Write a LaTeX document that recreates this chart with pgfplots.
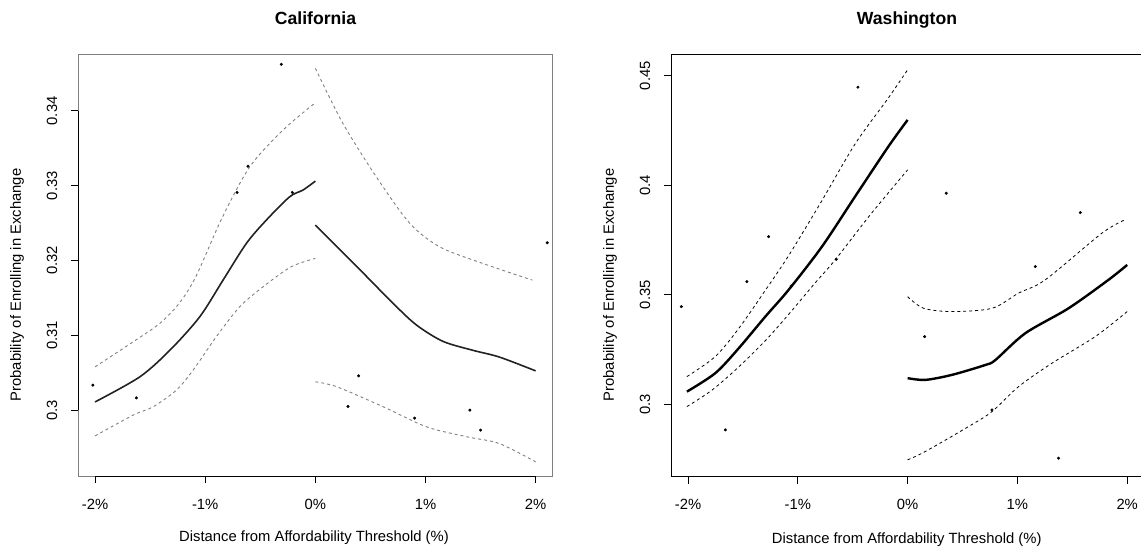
\documentclass[border=0pt]{standalone}
\usepackage{pgfplots}
\pgfplotsset{compat=1.18}
\usepackage{fontspec}
\setmainfont{Liberation Sans}
\definecolor{cagray}{HTML}{808080}
\definecolor{caline}{HTML}{222222}
\begin{document}
\fontsize{14.8bp}{18bp}\selectfont
\begin{tikzpicture}
\useasboundingbox (0bp,0bp) rectangle (1141bp,550bp);
\pgfplotsset{
  rstyle/.style={
    scale only axis,
    xmin=-2.155, xmax=2.155,
    xtick={-2,-1,0,1,2},
    xticklabels={-2\%,-1\%,0\%,1\%,2\%},
    xtick pos=lower, ytick pos=lower,
    tick align=outside,
    major tick length=7bp,
    tick style={black, line width=0.8bp},
    /pgf/number format/assume math mode=true,
    ticklabel style={font=\fontsize{14.8bp}{18bp}\selectfont},
    xticklabel style={anchor=center, yshift=-21bp},
    yticklabel style={anchor=center, xshift=-19bp, rotate=90},
    clip=false,
  },
}
% ---------------- California ----------------
\begin{axis}[rstyle,
  at={(78bp,74bp)}, anchor=south west,
  width=474.7bp, height=422bp,
  ymin=0.2912, ymax=0.3476,
  ytick={0.30,0.31,0.32,0.33,0.34},
  yticklabels={0.3,0.31,0.32,0.33,0.34},
  axis line style={cagray, line width=0.8bp},
]
\draw[black, line width=0.8bp] (axis cs:-2,0.2912) -- (axis cs:2,0.2912);
\draw[black, line width=0.8bp] (axis cs:-2.155,0.30) -- (axis cs:-2.155,0.34);
% fit left
\addplot[caline, line width=1.6bp, smooth] coordinates {
(-2.0,0.3011) (-1.594,0.30445) (-1.32,0.30802) (-1.05,0.31247) (-0.838,0.31738)
(-0.626,0.32229) (-0.445,0.3254) (-0.233,0.32852) (-0.113,0.32941) (0,0.33061)};
% upper CI left
\addplot[cagray, line width=0.9bp, dashed, smooth] coordinates {
(-2.0,0.30579) (-1.655,0.30913) (-1.413,0.31159) (-1.23,0.31440) (-1.08,0.31800)
(-0.85,0.32560) (-0.596,0.33250) (-0.294,0.33743) (0,0.34108)};
% lower CI left
\addplot[cagray, line width=0.9bp, dashed, smooth] coordinates {
(-2.0,0.29656) (-1.655,0.29933) (-1.474,0.30044) (-1.262,0.30267) (-1.11,0.30535)
(-0.90,0.3098) (-0.687,0.31381) (-0.475,0.31648) (-0.22,0.31916) (0,0.32028)};
% fit right
\addplot[caline, line width=1.6bp, smooth] coordinates {
(0,0.32473) (0.22,0.3215) (0.463,0.3179) (0.704,0.3143) (0.916,0.3114)
(1.158,0.3092) (1.43,0.3080) (1.67,0.3071) (2.0,0.30525)};
% upper CI right
\addplot[cagray, line width=0.9bp, dashed, smooth] coordinates {
(0,0.34568) (0.25,0.33833) (0.553,0.33119) (0.856,0.3250) (1.128,0.32183)
(1.52,0.31961) (1.97,0.31738)};
% lower CI right
\addplot[cagray, line width=0.9bp, dashed, smooth] coordinates {
(0,0.30379) (0.196,0.30312) (0.618,0.30044) (1.01,0.29777) (1.38,0.29643)
(1.67,0.29554) (2.0,0.29309)};
% points
\addplot[only marks, mark=*, mark size=1.3bp, black] coordinates {
(-2.02,0.30334) (-1.625,0.30164) (-0.309,0.34622) (-0.612,0.3326) (-0.711,0.3291)
(-0.209,0.3291) (2.105,0.32237) (0.393,0.30459) (0.296,0.30049) (0.901,0.29893)
(1.403,0.300) (1.50,0.29733)};
\end{axis}
% ---------------- Washington ----------------
\begin{axis}[rstyle,
  at={(671bp,73.3bp)}, anchor=south west,
  width=473.2bp, height=422.7bp,
  ymin=0.2669, ymax=0.4599,
  ytick={0.30,0.35,0.40,0.45},
  yticklabels={0.3,0.35,0.4,0.45},
  axis line style={black, line width=0.8bp},
]
% fit left
\addplot[black, line width=2.4bp, smooth] coordinates {
(-2.01,0.30575) (-1.751,0.31420) (-1.539,0.3255) (-1.296,0.34) (-1.084,0.3522)
(-0.78,0.37196) (-0.476,0.3950) (-0.173,0.4178) (0,0.4298)};
% upper CI left
\addplot[black, line width=0.8bp, dashed, smooth] coordinates {
(-2.01,0.3126) (-1.751,0.3218) (-1.539,0.3345) (-1.296,0.3520) (-1.084,0.3678)
(-0.78,0.3930) (-0.476,0.4190) (-0.173,0.4400) (0,0.4527)};
% lower CI left
\addplot[black, line width=0.8bp, dashed, smooth] coordinates {
(-2.01,0.2989) (-1.78,0.3065) (-1.539,0.3170) (-1.296,0.3290) (-1.084,0.3410)
(-0.84,0.3555) (-0.658,0.3660) (-0.34,0.3865) (0,0.4070)};
% fit right
\addplot[black, line width=2.4bp, smooth] coordinates {
(0,0.3119) (0.161,0.3111) (0.404,0.3134) (0.707,0.3179) (0.8,0.3202)
(1.072,0.3324) (1.466,0.3438) (1.83,0.3568) (2.0,0.3636)};
% upper CI right
\addplot[black, line width=0.8bp, dashed, smooth] coordinates {
(0,0.3491) (0.146,0.3438) (0.404,0.3423) (0.77,0.3438) (1.01,0.3507)
(1.254,0.3568) (1.77,0.3781) (1.98,0.3842)};
% lower CI right
\addplot[black, line width=0.8bp, dashed, smooth] coordinates {
(0,0.2746) (0.161,0.2784) (0.555,0.2898) (0.768,0.2966) (1.01,0.3080)
(1.314,0.3187) (1.71,0.3309) (2.0,0.3423)};
% points
\addplot[only marks, mark=*, mark size=1.3bp, black] coordinates {
(-2.061,0.34457) (-1.66,0.28826) (-1.464,0.3560) (-1.266,0.37653) (-0.452,0.44475)
(-0.65,0.3662) (-1.06,0.3540) (0.352,0.39635) (1.573,0.38749) (1.163,0.36283)
(0.155,0.33087) (0.768,0.2974) (1.375,0.27534)};
\end{axis}
% ---------------- labels ----------------
\node[font=\fontsize{17.6bp}{20bp}\selectfont\bfseries] at (315.5bp,532bp) {California};
\node[font=\fontsize{17.6bp}{20bp}\selectfont\bfseries] at (907bp,530bp) {Washington};
\node at (314bp,12bp) {Distance from Affordability Threshold (\%)};
\node at (906.7bp,10bp) {Distance from Affordability Threshold (\%)};
\node[rotate=90] at (17bp,265bp) {Probability of Enrolling in Exchange};
\node[rotate=90] at (610bp,265bp) {Probability of Enrolling in Exchange};
\end{tikzpicture}
\end{document}
